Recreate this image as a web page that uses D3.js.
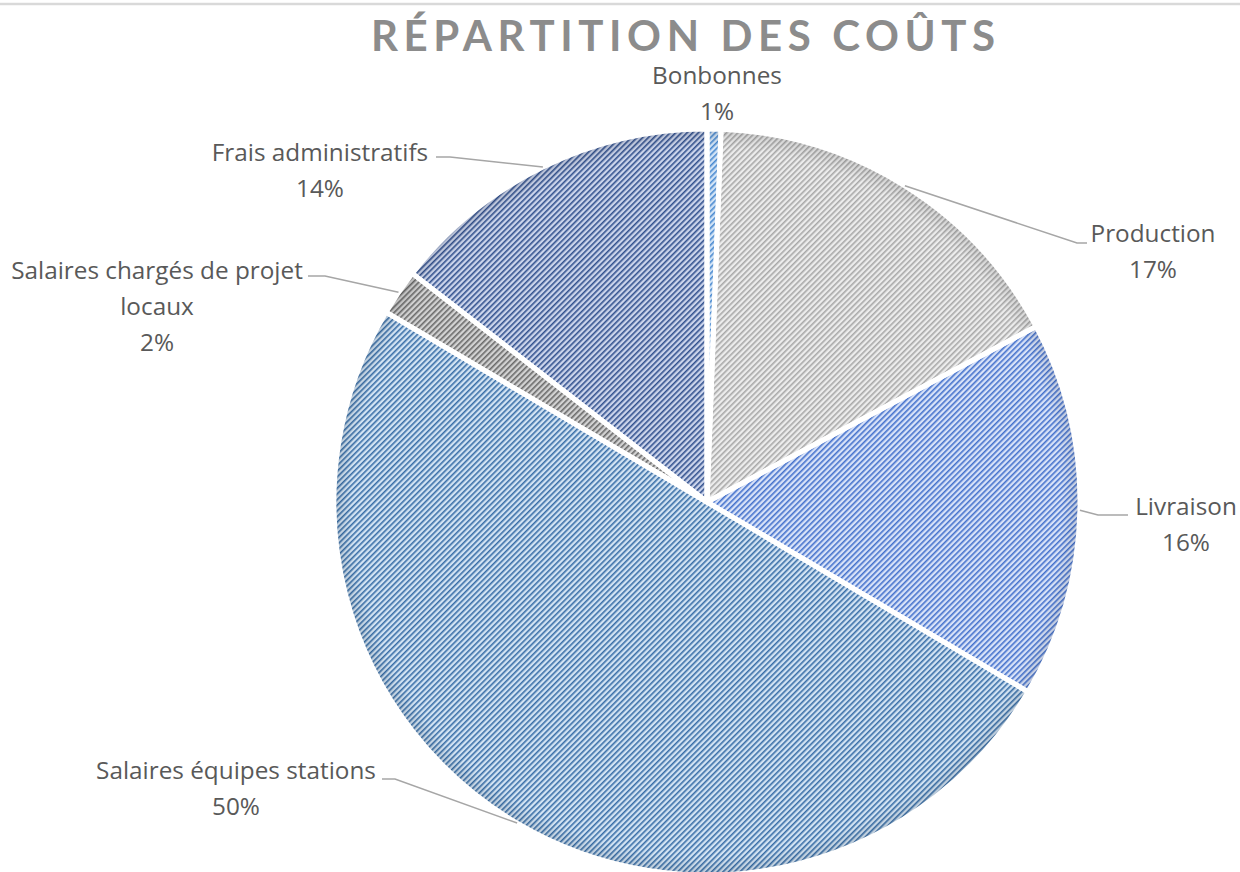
<!DOCTYPE html>
<html><head><meta charset="utf-8">
<script src="https://cdn.jsdelivr.net/npm/d3@7"></script>
<style>body{margin:0;background:#fff}svg{display:block}</style>
</head><body><svg id="c" width="1240" height="872"></svg>
<script>
// ---- data ----
const title = "RÉPARTITION DES COÛTS";
const categories = ["Bonbonnes","Production","Livraison","Salaires équipes stations","Salaires chargés de projet locaux","Frais administratifs"];
const values = [0.6, 16.6, 16.3, 50.0, 2.0, 14.5];
const percentLabels = ["1%","17%","16%","50%","2%","14%"];
const labelLines = [["Bonbonnes"],["Production"],["Livraison"],["Salaires équipes stations"],["Salaires chargés de projet","locaux"],["Frais administratifs"]];

// ---- styles ----
const bgColors   = ["#d3e4f6","#ececec","#d8e2f8","#d2e3f3","#d2d2d2","#cbd4eb"];
const lineColors = ["#4a8ad0","#a8a8a8","#4572cc","#3a6fa8","#6a6a6a","#33528f"];

// ---- layout ----
const W = 1240, H = 872, cx = 707, cy = 502, R = 373;
const labelLayout = [
  {x:717, y:84, pts:null},
  {x:1153, y:242, pts:[[1077,243],[1087,243]]},
  {x:1186, y:515, pts:[[1098,515],[1128,515]]},
  {x:236, y:779, pts:[[395,779],[382,779]]},
  {x:157, y:279, pts:[[325,276],[308,276]]},
  {x:320, y:161, pts:[[450,157],[436,157]]}
];

const svg = d3.select("#c");
const defs = svg.append("defs");
categories.forEach((c,i)=>{
  const p = defs.append("pattern").attr("id","pat"+i).attr("patternUnits","userSpaceOnUse")
    .attr("width",4).attr("height",4).attr("patternTransform","rotate(45)");
  p.append("rect").attr("width",4).attr("height",4).attr("fill",bgColors[i]);
  p.append("rect").attr("width",1.6).attr("height",4).attr("fill",lineColors[i]);
});
const rg = defs.append("radialGradient").attr("id","rim").attr("gradientUnits","userSpaceOnUse")
  .attr("cx",0).attr("cy",0).attr("r",R);
rg.append("stop").attr("offset","0.95").attr("stop-color","#000").attr("stop-opacity",0);
rg.append("stop").attr("offset","1").attr("stop-color","#000").attr("stop-opacity",0.12);

// top border
svg.append("line").attr("x1",0).attr("x2",W).attr("y1",4).attr("y2",4)
  .attr("stroke","#d9d9d9").attr("stroke-width",2.5);

// title
svg.append("text").attr("x",683).attr("y",51).attr("text-anchor","middle")
  .attr("font-family","Lato, sans-serif").attr("font-weight","bold").attr("font-size",42)
  .attr("fill","#8c8c8c").attr("textLength",624).attr("lengthAdjust","spacing")
  .text(title);

const pie = d3.pie().sort(null).value(d=>d);
const arcs = pie(values);
const arc = d3.arc().innerRadius(0).outerRadius(R);
const g = svg.append("g").attr("transform",`translate(${cx},${cy})`);
g.selectAll("path.s").data(arcs).join("path").attr("class","s")
  .attr("d",arc).attr("fill",(d,i)=>`url(#pat${i})`);
g.selectAll("path.r").data(arcs).join("path").attr("class","r")
  .attr("d",arc).attr("fill","url(#rim)");
g.selectAll("path.b").data(arcs).join("path").attr("class","b")
  .attr("d",arc).attr("fill","none").attr("stroke","#fff").attr("stroke-width",5).attr("stroke-linejoin","round");

// leader lines
arcs.forEach((d,i)=>{
  const L = labelLayout[i];
  if(!L.pts) return;
  const a = (d.startAngle+d.endAngle)/2;
  const p0 = [cx + R*Math.sin(a), cy - R*Math.cos(a)];
  svg.append("path").attr("d", d3.line()([p0, ...L.pts]))
    .attr("fill","none").attr("stroke","#a6a6a6").attr("stroke-width",1.6);
});

// labels
const fontFam = "'Open Sans', sans-serif";
const probe = svg.append("text").attr("font-family",fontFam).attr("font-size",100).text(labelLines[3][0]);
const fs = 100*280/probe.node().getComputedTextLength();
probe.remove();
arcs.forEach((d,i)=>{
  const L = labelLayout[i];
  const t = svg.append("text").attr("font-family",fontFam).attr("font-size",fs)
    .attr("fill","#595959").attr("text-anchor","middle");
  const lines = [...labelLines[i], percentLabels[i]];
  lines.forEach((s,k)=>t.append("tspan").attr("x",L.x).attr("y",L.y+k*36).text(s));
});
</script></body></html>
